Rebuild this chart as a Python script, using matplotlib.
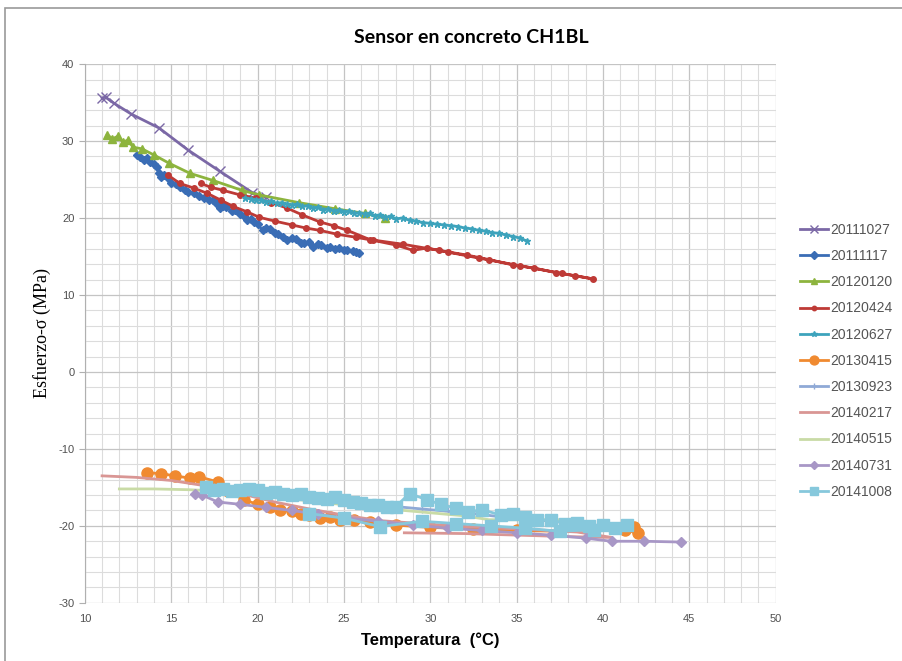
import matplotlib
matplotlib.use("Agg")
import matplotlib.pyplot as plt
from matplotlib.patches import Rectangle
from matplotlib.ticker import MultipleLocator

plt.rcParams["font.family"] = ["Liberation Sans", "DejaVu Sans"]
plt.rcParams["axes.unicode_minus"] = False

# ---- data (temperature degC, stress MPa) ----
labels = ["20111027", "20111117", "20120120", "20120424", "20120627", "20130415",
          "20130923", "20140217", "20140515", "20140731", "20141008"]

t_20111027 = [11.0, 11.2, 11.7, 12.7, 14.3, 16.0, 17.8, 19.7, 20.5]
s_20111027 = [35.6, 35.7, 34.9, 33.5, 31.7, 28.8, 26.1, 23.3, 22.7]

t_20111117 = [13.0, 13.2, 13.4, 13.6, 13.8, 14.0, 14.2, 14.3, 14.4, 14.6, 14.8,
              15.0, 15.3, 15.5, 15.8, 16.0, 16.3, 16.6, 16.9, 17.2, 17.4, 17.6, 17.8,
              18.0, 18.2, 18.5, 18.7, 19.0, 19.2, 19.4, 19.6, 19.8, 20.0, 20.3, 20.5,
              20.7, 21.0, 21.2, 21.5, 21.7, 22.0, 22.2, 22.5, 22.7, 23.0, 23.2, 23.5,
              23.7, 24.0, 24.2, 24.5, 24.7, 25.0, 25.2, 25.5, 25.7, 25.9]
s_20111117 = [28.2, 27.9, 27.6, 27.8, 27.3, 27.0, 26.6, 25.9, 25.3, 25.6, 25.2,
              24.6, 24.4, 24.0, 23.7, 23.4, 23.2, 22.9, 22.6, 22.4, 22.3, 21.9, 21.3,
              21.6, 21.4, 20.9, 21.0, 20.5, 20.2, 19.8, 19.9, 19.5, 19.2, 18.4, 18.7,
              18.6, 18.0, 17.9, 17.6, 17.1, 17.4, 17.3, 16.8, 16.7, 16.9, 16.3, 16.6,
              16.5, 16.1, 16.3, 16.0, 16.1, 15.8, 15.9, 15.7, 15.6, 15.5]

t_20120120 = [11.3, 11.6, 11.9, 12.2, 12.5, 12.8, 13.3, 14.0, 14.9, 16.1, 17.4, 19.1,
              20.1, 22.4, 24.5, 26.2, 27.4]
s_20120120 = [30.8, 30.3, 30.6, 29.9, 30.1, 29.2, 29.0, 28.2, 27.1, 25.8, 24.9, 23.6,
              23.0, 22.0, 21.2, 20.6, 20.0]

t_20120424 = [14.8, 15.5, 16.3, 17.1, 17.9, 18.6, 19.4, 20.1, 21.0, 22.0, 22.8, 23.6,
              24.6, 25.7, 26.7, 28.0, 29.0, 29.8, 31.0, 32.1, 33.4, 34.8, 36.0, 37.3,
              38.4, 39.4, 37.6, 35.2, 32.8, 30.5, 28.4, 26.5, 25.2, 24.4, 23.6, 22.6,
              21.7, 20.8, 19.9, 19.0, 18.0, 17.3, 16.7]
s_20120424 = [25.6, 24.5, 23.9, 23.2, 22.3, 21.5, 20.8, 20.1, 19.6, 19.1, 18.7, 18.4,
              17.9, 17.5, 17.1, 16.5, 15.8, 16.1, 15.6, 15.2, 14.6, 13.9, 13.5, 12.9,
              12.5, 12.1, 12.8, 13.8, 14.8, 15.8, 16.6, 17.2, 18.4, 19.0, 19.5, 20.4,
              21.3, 22.0, 22.6, 23.0, 23.6, 24.0, 24.5]

t_20120627 = [19.3, 19.6, 19.9, 20.2, 20.5, 20.8, 21.1, 21.4, 21.7, 22.0,
              22.3, 22.6, 22.9, 23.2, 23.5, 23.8, 24.1, 24.4, 24.7, 25.0,
              25.3, 25.6, 25.9, 26.2, 26.5, 26.8, 27.1, 27.4, 27.7, 28.0,
              28.4, 28.8, 29.2, 29.6, 30.0, 30.4, 30.8, 31.2, 31.6, 32.0,
              32.4, 32.8, 33.2, 33.6, 34.0, 34.4, 34.8, 35.2, 35.6]
s_20120627 = [22.6, 22.5, 22.3, 22.4, 22.1, 22.2, 21.9, 22.0, 21.8, 21.7,
              21.8, 21.5, 21.6, 21.3, 21.4, 21.1, 21.2, 20.9, 21.0, 20.8,
              20.9, 20.6, 20.7, 20.5, 20.6, 20.3, 20.4, 20.1, 20.2, 19.9,
              20.0, 19.7, 19.6, 19.4, 19.3, 19.2, 19.1, 19.0, 18.9, 18.7,
              18.6, 18.4, 18.3, 18.1, 18.0, 17.8, 17.6, 17.4, 17.0]

t_20130415 = [13.6, 14.4, 15.2, 16.1, 16.6, 17.7, 18.3, 19.2, 20.0, 20.7, 21.3, 22.0,
              22.5, 23.0, 23.6, 24.2, 24.8, 25.6, 26.5, 28.0, 30.0, 32.5, 35.0, 37.5,
              40.8, 41.3, 41.8, 42.0]
s_20130415 = [-13.1, -13.2, -13.5, -13.8, -13.6, -14.3, -15.5, -16.6, -17.2, -17.5, -17.9, -18.1,
              -18.4, -18.6, -19.0, -18.9, -19.2, -19.3, -19.5, -19.9, -20.2, -20.4, -20.6, -20.7,
              -20.3, -20.6, -20.1, -20.9]

t_20130923 = [17.5, 19.0, 20.5, 22.0, 23.5, 25.0, 26.5, 28.0, 29.5, 31.0, 32.5, 34.0,
              35.5, 37.0, 38.5, 40.0]
s_20130923 = [-15.0, -15.3, -15.6, -16.0, -16.4, -16.8, -17.1, -17.5, -17.8, -18.1, -18.4, -18.8,
              -19.1, -19.4, -19.7, -20.0]

t_20140217 = [11.0, 13.0, 15.0, 17.0, 19.0, 21.0, 23.0, 25.0, 27.0, 30.0, 33.0, 36.0,
              38.5, 40.5, 38.0, 35.0, 32.0, 28.5]
s_20140217 = [-13.5, -13.7, -14.1, -14.8, -15.8, -16.9, -17.8, -18.6, -19.3, -19.8, -20.2, -20.5,
              -20.8, -21.5, -21.4, -21.2, -21.0, -20.9]

t_20140515 = [12.0, 14.0, 16.0, 18.0, 20.0, 22.0, 24.0, 26.0, 28.0, 30.0, 32.0, 33.4,
              35.5, 38.8]
s_20140515 = [-15.2, -15.2, -15.3, -15.5, -16.0, -16.5, -17.0, -17.5, -17.9, -18.3, -18.7, -19.2,
              -19.2, -19.2]

t_20140731 = [16.4, 16.8, 17.7, 19.0, 20.5, 22.0, 23.5, 25.2, 27.0, 29.0, 31.0, 33.0,
              35.0, 37.0, 39.0, 40.5, 42.4, 44.5]
s_20140731 = [-15.8, -16.0, -16.9, -17.2, -17.6, -18.0, -18.5, -19.0, -19.4, -19.9, -20.3, -20.6,
              -20.9, -21.2, -21.6, -22.0, -22.0, -22.1]

t_20141008 = [17.0, 17.5, 18.0, 18.5, 19.0, 19.5, 20.0, 20.5, 21.0, 21.5, 22.0, 22.5,
              23.0, 23.5, 24.0, 24.5, 25.0, 25.5, 26.0, 26.5, 27.0, 27.5, 28.0, 28.8,
              29.8, 30.6, 31.5, 32.2, 33.0, 34.1, 34.8, 35.5, 36.2, 37.0, 37.8, 38.5,
              39.2, 40.0, 40.7, 41.4, 39.5, 37.5, 35.5, 33.5, 31.5, 29.5, 27.1, 25.0, 23.0]
s_20141008 = [-15.0, -15.3, -15.2, -15.5, -15.4, -15.2, -15.3, -15.7, -15.6, -15.9, -16.0, -15.8,
              -16.2, -16.4, -16.5, -16.3, -16.7, -16.9, -17.0, -17.3, -17.3, -17.6, -17.5, -15.8,
              -16.6, -17.2, -17.7, -18.2, -17.9, -18.6, -18.4, -18.8, -19.3, -19.2, -19.7, -19.6,
              -20.0, -19.9, -20.3, -19.9, -20.5, -20.7, -20.3, -20.0, -19.7, -19.4, -20.1, -19.0, -18.4]

series = [
    (t_20111027, s_20111027, "#7B68A6", "x", 7),
    (t_20111117, s_20111117, "#3A6DB5", "D", 4.5),
    (t_20120120, s_20120120, "#8DB43E", "^", 5.5),
    (t_20120424, s_20120424, "#BE3A36", "o", 4),
    (t_20120627, s_20120627, "#3DA3BC", "*", 5),
    (t_20130415, s_20130415, "#F08A30", "o", 8),
    (t_20130923, s_20130923, "#8FA9D6", "+", 6),
    (t_20140217, s_20140217, "#D99694", "", 0),
    (t_20140515, s_20140515, "#C9DBA6", "", 0),
    (t_20140731, s_20140731, "#A897C6", "D", 5),
    (t_20141008, s_20141008, "#86C8DC", "s", 8),
]

fig = plt.figure(figsize=(9.02, 6.61), dpi=100)
ax = fig.add_axes([0.094, 0.088, 0.766, 0.815])

for (t, s, color, marker, ms), label in zip(series, labels):
    ax.plot(t, s, color=color, marker=marker, markersize=ms, lw=2.0,
            markeredgecolor=color, label=label)

ax.set_xlim(10, 50)
ax.set_ylim(-30, 40)
ax.xaxis.set_major_locator(MultipleLocator(5))
ax.xaxis.set_minor_locator(MultipleLocator(1))
ax.yaxis.set_major_locator(MultipleLocator(10))
ax.yaxis.set_minor_locator(MultipleLocator(2))
ax.grid(which="minor", color="#dcdcdc", lw=0.8)
ax.grid(which="major", color="#c4c4c4", lw=0.9)
ax.set_axisbelow(True)
for side in ("top", "right", "bottom"):
    ax.spines[side].set_visible(False)
ax.spines["left"].set_color("#b0b0b0")
ax.tick_params(which="both", length=0, labelsize=8, labelcolor="#505050")
ax.tick_params(axis="y", which="major", length=4, color="#b0b0b0")
ax.tick_params(axis="x", pad=8)

ax.set_xlabel("Temperatura  (°C)", fontsize=12, fontweight="bold", labelpad=6)
ax.set_ylabel("Esfuerzo-σ (MPa)", fontsize=13, family="Liberation Serif", labelpad=5)
fig.text(0.522, 0.944, "Sensor en concreto CH1BL", ha="center", va="center",
         fontsize=14, fontweight="bold", family="Lato")

handles, leg_labels = ax.get_legend_handles_labels()
fig.legend(handles, leg_labels, loc="upper left", bbox_to_anchor=(0.873, 0.682),
           frameon=False, fontsize=10, labelspacing=0.88, handlelength=2.0,
           handletextpad=0.2, labelcolor="#555555", markerscale=0.8)

fig.patches.append(Rectangle((5 / 902, -0.01), 1.0, 1 - 8 / 661 + 0.01,
                             transform=fig.transFigure, fill=False,
                             edgecolor="#9a9a9a", lw=1.2))

fig.savefig("out.png", dpi=100)
